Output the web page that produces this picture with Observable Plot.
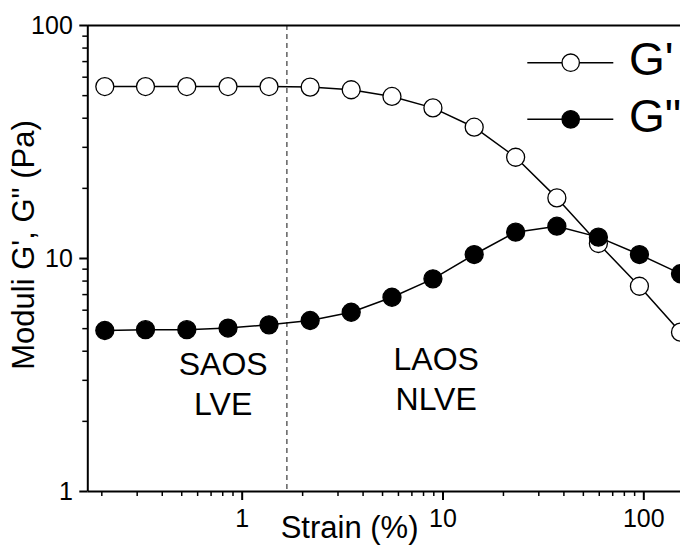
<!DOCTYPE html>
<html><head><meta charset="utf-8">
<script src="https://cdn.jsdelivr.net/npm/d3@7"></script>
<script src="https://cdn.jsdelivr.net/npm/@observablehq/plot@0.6"></script>
<style>
body{margin:0;background:#fff;}
#chart{position:relative;width:680px;height:546px;overflow:hidden;}
</style>
</head><body><div id="chart"></div>
<script>
const strain  = [0.207, 0.33, 0.53, 0.85, 1.36, 2.18, 3.49, 5.57, 8.91, 14.3, 23.0, 36.9, 59.4, 95.1, 152.3];
const gPrime  = [54.7, 54.7, 54.7, 54.7, 54.7, 54.4, 53.0, 49.6, 44.3, 36.6, 27.2, 18.2, 11.6, 7.6, 4.83];
const gDouble = [4.91, 4.95, 4.95, 5.03, 5.19, 5.42, 5.88, 6.82, 8.18, 10.4, 12.97, 13.76, 12.35, 10.4, 8.6];
const seriesNames = ["G'", 'G"'];
const xMajor = [1, 10, 100];
const xMinor = [0.2,0.3,0.4,0.5,0.6,0.7,0.8,0.9,2,3,4,5,6,7,8,9,20,30,40,50,60,70,80,90];
const yMajor = [1, 10, 100];
const yMinor = [2,3,4,5,6,7,8,9,20,30,40,50,60,70,80,90];
const xDomain = [0.1703, 152.3];
const yDomain = [1, 100];
const boundary = 1.67;
const regions = [
  {x: 0.804, y: 2.94, label: "SAOS\nLVE"},
  {x: 9.25, y: 3.09, label: "LAOS\nNLVE"}
];
const xLabel = "Strain (%)";
const yLabel = "Moduli G', G\" (Pa)";

const gp = strain.map((s, i) => ({strain: s, value: gPrime[i]}));
const gdp = strain.map((s, i) => ({strain: s, value: gDouble[i]}));

const font = "'Liberation Sans', Arial, sans-serif";
const plot = Plot.plot({
  width: 680, height: 546,
  marginLeft: 87.3, marginRight: 0, marginTop: 25, marginBottom: 55,
  style: {fontFamily: font, background: "white", overflow: "hidden", color: "black"},
  x: {type: "log", domain: xDomain},
  y: {type: "log", domain: yDomain},
  marks: [
    Plot.ruleX([boundary], {stroke: "#111", strokeWidth: 1, strokeDasharray: "5,4"}),
    Plot.axisY(yMinor, {tickSize: 5, tickFormat: () => "", strokeWidth: 1.5, label: null}),
    Plot.axisY(yMajor, {tickSize: 8, tickPadding: 7, fontSize: 25, tickFormat: d => String(d), strokeWidth: 2, label: null}),
    Plot.axisX(xMinor, {tickSize: 5, tickFormat: () => "", strokeWidth: 1.5, label: null}),
    Plot.axisX(xMajor, {tickSize: 9, tickPadding: 9, fontSize: 25, tickFormat: d => String(d), strokeWidth: 2, label: null}),
    Plot.ruleX([xDomain[0]], {strokeWidth: 2}),
    Plot.ruleY(yDomain, {strokeWidth: 2}),
    Plot.line(gp, {x: "strain", y: "value", stroke: "black", strokeWidth: 1.5}),
    Plot.dot(gp, {x: "strain", y: "value", r: 9, fill: "white", stroke: "black", strokeWidth: 1.3}),
    Plot.line(gdp, {x: "strain", y: "value", stroke: "black", strokeWidth: 1.5}),
    Plot.dot(gdp, {x: "strain", y: "value", r: 9, fill: "black", stroke: "black", strokeWidth: 1.3}),
    Plot.text(regions, {x: "x", y: "y", text: "label", fontSize: 32, lineHeight: 1.25, lineAnchor: "middle", fill: "black"}),
    Plot.text([xLabel], {frameAnchor: "bottom", textAnchor: "middle", dx: -34.6, dy: 37, fontSize: 31, lineAnchor: "middle", fill: "black"}),
    Plot.text([yLabel], {frameAnchor: "left", textAnchor: "middle", rotate: -90, dx: -63.9, dy: -13.5, fontSize: 31, lineAnchor: "middle", fill: "black"})
  ]
});
document.getElementById("chart").append(plot);

// legend
const svg = d3.select(plot);
const lg = svg.append("g").attr("class", "legend");
seriesNames.forEach((name, i) => {
  const y = 62.7 + i * 56.6;
  lg.append("line").attr("x1", 527.3).attr("x2", 613.3).attr("y1", y).attr("y2", y)
    .attr("stroke", "black").attr("stroke-width", 1.5);
  lg.append("circle").attr("cx", 570.7).attr("cy", y).attr("r", 8.7)
    .attr("fill", i === 0 ? "white" : "black").attr("stroke", "black").attr("stroke-width", 1.3);
  lg.append("text").attr("x", 629).attr("y", y + 12.5).attr("font-size", 46)
    .attr("text-anchor", "start")
    .attr("font-family", font).attr("fill", "black").text(name);
});
</script>
</body></html>
